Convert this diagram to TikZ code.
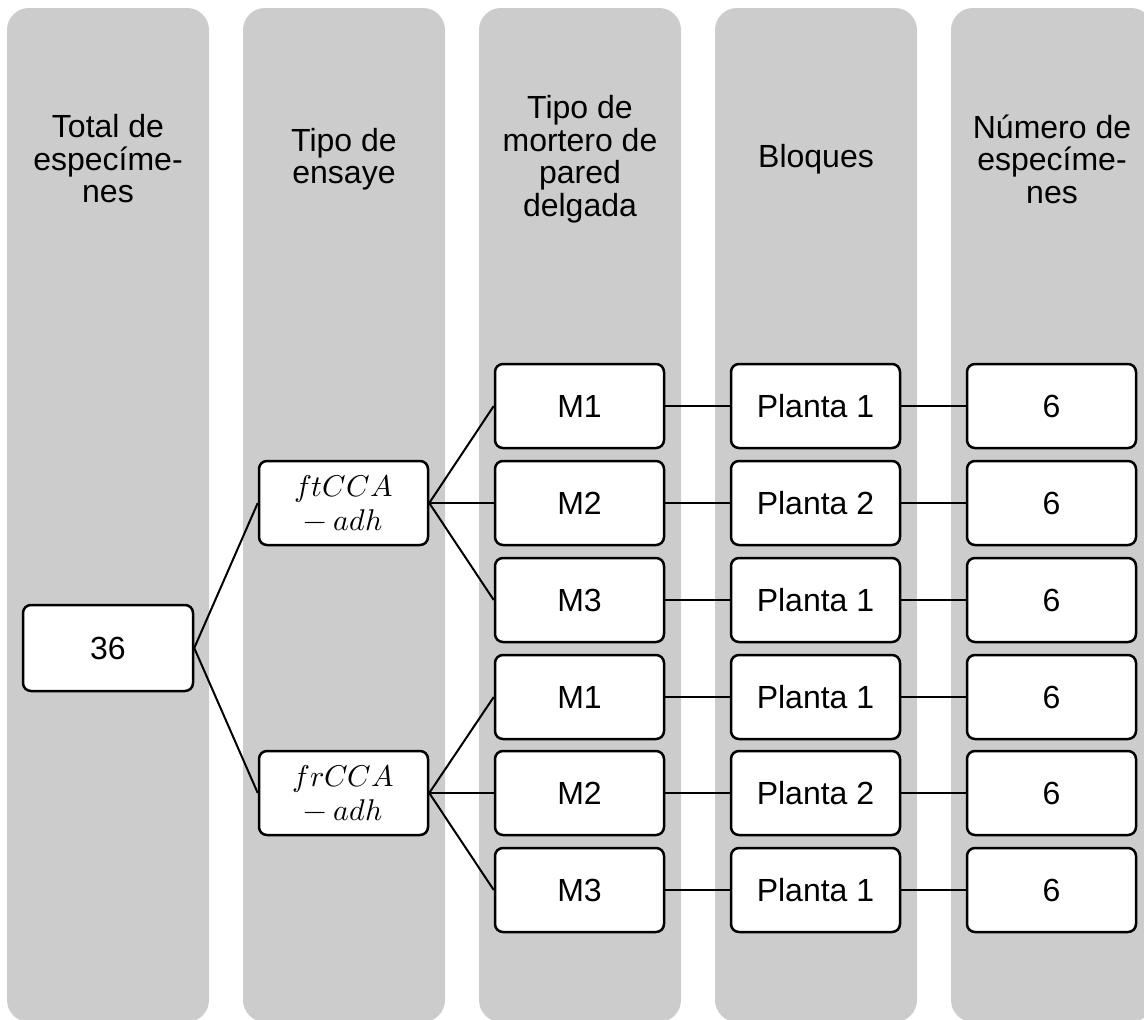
\documentclass[tikz,border=0pt]{standalone}
\usepackage{fontspec}
\usepackage{unicode-math}
\setmainfont{Liberation Sans}
\setmathfont{Latin Modern Math}
\definecolor{colgray}{RGB}{204,204,204}
\tikzset{
  colbg/.style={fill=colgray, rounded corners=22pt},
  box/.style={draw, line width=2.5pt, rounded corners=8pt, fill=white,
    minimum width=169pt, minimum height=84pt, inner sep=0pt, align=center,
    font=\fontsize{32}{38}\selectfont},
  mathbox/.style={box, font=\fontsize{30}{34}\selectfont},
  hdr/.style={align=center, inner sep=0pt, font=\fontsize{32}{32.5}\selectfont},
  link/.style={line width=2pt}
}
\begin{document}
\begin{tikzpicture}[x=1pt,y=-1pt]
\useasboundingbox (0,0) rectangle (1144,1020);
\clip (0,0) rectangle (1144,1020);
% columns
\foreach \cx in {108,344,580,816,1052}{
  \fill[colbg] (\cx-101,8) rectangle (\cx+101,1022);
}
% headers
\node[hdr] (h1) at (108,159) {Total de\\especíme-\\nes};
\node[hdr] (h2) at (344,159) {Tipo de\\ensaye};
\node[hdr] (h3) at (580,159) {Tipo de\\mortero de\\pared\\delgada};
\node[hdr] (h4) at (816,159) {Bloques};
\node[hdr] (h5) at (1052,159) {Número de\\especíme-\\nes};
% boxes
\node[box, minimum width=170pt, minimum height=86pt] (n36) at (108,648) {36};
\node[mathbox] (ft) at (343.5,503) {$ftCCA$\\$-\:adh$};
\node[mathbox] (fr) at (343.5,793) {$frCCA$\\$-\:adh$};
\node[box] (m1) at (579.5,406) {M1};
\node[box] (m2) at (579.5,503) {M2};
\node[box] (m3) at (579.5,600) {M3};
\node[box] (m4) at (579.5,697) {M1};
\node[box] (m5) at (579.5,793) {M2};
\node[box] (m6) at (579.5,890) {M3};
\node[box] (p1) at (815.5,406) {Planta 1};
\node[box] (p2) at (815.5,503) {Planta 2};
\node[box] (p3) at (815.5,600) {Planta 1};
\node[box] (p4) at (815.5,697) {Planta 1};
\node[box] (p5) at (815.5,793) {Planta 2};
\node[box] (p6) at (815.5,890) {Planta 1};
\node[box] (s1) at (1051.5,406) {6};
\node[box] (s2) at (1051.5,503) {6};
\node[box] (s3) at (1051.5,600) {6};
\node[box] (s4) at (1051.5,697) {6};
\node[box] (s5) at (1051.5,793) {6};
\node[box] (s6) at (1051.5,890) {6};
% connectors
\draw[link] (n36.east) -- (ft.west);
\draw[link] (n36.east) -- (fr.west);
\draw[link] (ft.east) -- (m1.west);
\draw[link] (ft.east) -- (m2.west);
\draw[link] (ft.east) -- (m3.west);
\draw[link] (fr.east) -- (m4.west);
\draw[link] (fr.east) -- (m5.west);
\draw[link] (fr.east) -- (m6.west);
\foreach \i in {1,...,6}{
  \draw[link] (m\i.east) -- (p\i.west);
  \draw[link] (p\i.east) -- (s\i.west);
}
\end{tikzpicture}
\end{document}
